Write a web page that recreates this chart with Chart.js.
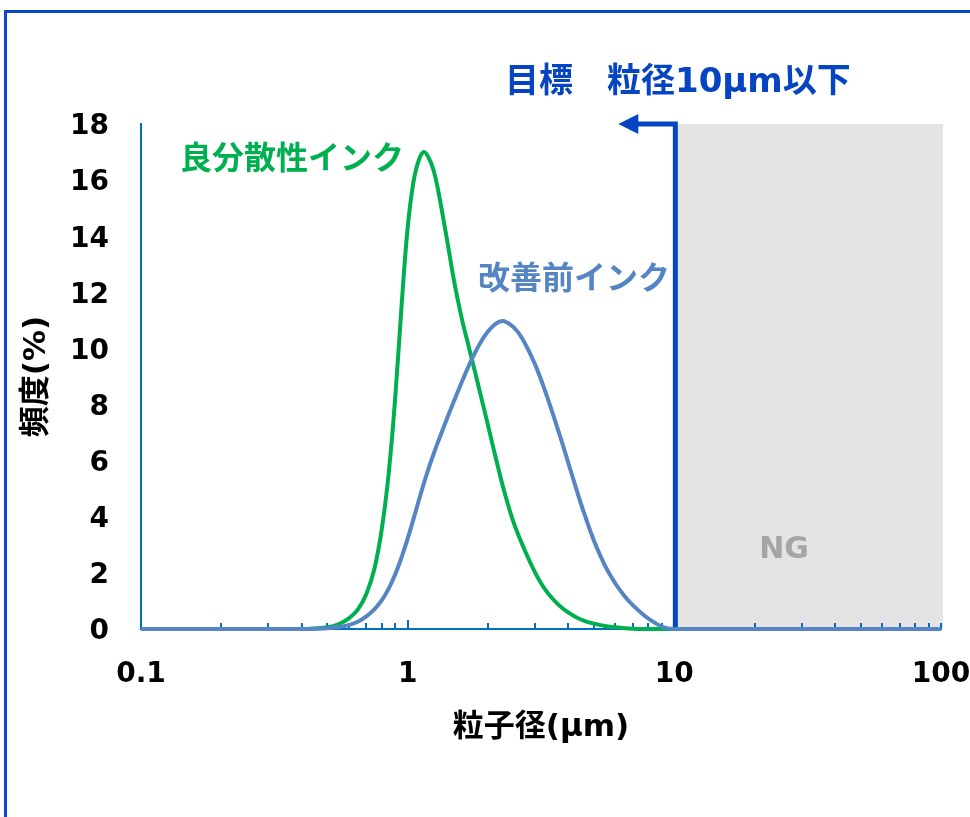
<!DOCTYPE html>
<html lang="ja">
<head>
<meta charset="utf-8">
<title>粒子径分布</title>
<script src="https://cdn.jsdelivr.net/npm/chart.js@4/dist/chart.umd.min.js"></script>
<style>
html, body { margin: 0; padding: 0; background: #fff; }
#wrap { position: relative; width: 970px; height: 817px; overflow: hidden; }
#frame { position: absolute; left: 4px; top: 10px; width: 1000px; height: 900px;
         border-top: 3px solid #0b47c6; border-left: 3px solid #0b47c6; pointer-events: none; }
canvas { position: absolute; left: 0; top: 0; }
</style>
</head>
<body>
<div id="wrap">
  <canvas id="c" width="970" height="817"></canvas>
  <div id="frame"></div>
</div>
<script>
// particle size (μm) sampled on the log axis
const particleSizes = [0.1, 0.4, 0.45, 0.5, 0.55, 0.6, 0.65, 0.7, 0.75, 0.8, 0.85, 0.9, 0.95,
  1.0, 1.05, 1.1, 1.15, 1.2, 1.25, 1.3, 1.4, 1.5, 1.6, 1.7, 1.8, 1.9, 2.0, 2.1, 2.2, 2.3,
  2.5, 2.7, 3.0, 3.3, 3.7, 4.0, 4.3, 4.6, 5.0, 5.5, 6.0, 6.5, 7.0, 7.5, 8.0, 9.0, 10, 100];

// frequency (%) – well-dispersed ink
const wellDispersedInk = [0, 0, 0.02, 0.06, 0.17, 0.37, 0.69, 1.25, 2.14, 3.57, 5.6, 8.36, 11.6,
  14.3, 15.9, 16.7, 17.0, 16.79, 16.36, 15.65, 13.95, 12.3, 11.02, 10.01, 9.06, 8.14, 7.27, 6.42, 5.63, 4.92,
  3.78, 2.98, 2.03, 1.37, 0.84, 0.59, 0.41, 0.29, 0.19, 0.11, 0.06, 0.03, 0.01, 0, 0, 0, 0, 0];

// frequency (%) – ink before improvement
const beforeImprovementInk = [0, 0, 0.01, 0.03, 0.07, 0.14, 0.26, 0.45, 0.7, 1.03, 1.45, 1.97, 2.57,
  3.22, 3.9, 4.57, 5.19, 5.74, 6.23, 6.67, 7.47, 8.18, 8.83, 9.41, 9.9, 10.3, 10.6, 10.82, 10.95, 10.97,
  10.75, 10.33, 9.44, 8.4, 6.97, 5.93, 4.96, 4.1, 3.14, 2.25, 1.63, 1.18, 0.84, 0.58, 0.37, 0.08, 0, 0];

const seriesNames = ['良分散性インク', '改善前インク'];
const xTickValues = [0.1, 1, 10, 100];
const xTickLabels = ['0.1', '1', '10', '100'];
const yMin = 0, yMax = 18, yStep = 2;
const targetSize = 10;          // upper limit of the target range (μm)
const targetText = '目標\u3000粒径10μm以下';
const ngText = 'NG';

const FONT = "'DejaVu Sans', 'Noto Sans CJK JP', sans-serif";
const C_GREEN = '#00b050';
const C_STEEL = '#5585c3';
const C_AXIS = '#0070c0';
const C_TARGET = '#0645c2';

// shaded NG band, minor ticks and the target marker behind the curves
const decorations = {
  id: 'decorations',
  beforeDatasetsDraw(chart) {
    const { ctx, chartArea } = chart;
    const xs = chart.scales.x, ys = chart.scales.y;
    const y0 = ys.getPixelForValue(yMin);
    const yTop = ys.getPixelForValue(yMax);
    const xT = xs.getPixelForValue(targetSize);
    ctx.save();

    // NG band
    ctx.fillStyle = '#e4e4e4';
    ctx.fillRect(xT, yTop, chartArea.right + 2 - xT, y0 - 1 - yTop);

    // inward ticks on the log axis
    ctx.strokeStyle = C_AXIS;
    ctx.lineWidth = 2;
    for (const d of [0.1, 1, 10]) {
      for (let k = 1; k <= 10; k++) {
        const v = d * k;
        if (v <= 0.1 + 1e-9) continue;
        if (k === 10 && d !== 10) continue;
        const px = Math.round(xs.getPixelForValue(v));
        const len = (k === 1) ? 9 : 6;
        ctx.beginPath();
        ctx.moveTo(px, y0);
        ctx.lineTo(px, y0 - len);
        ctx.stroke();
      }
    }

    // target line with arrow pointing to the smaller sizes
    ctx.strokeStyle = C_TARGET;
    ctx.fillStyle = C_TARGET;
    ctx.lineWidth = 5;
    ctx.lineJoin = 'miter';
    ctx.beginPath();
    ctx.moveTo(xT + 1, y0 - 2);
    ctx.lineTo(xT + 1, yTop);
    ctx.lineTo(xT - 38, yTop);
    ctx.stroke();
    ctx.beginPath();
    ctx.moveTo(xT - 56, yTop);
    ctx.lineTo(xT - 36, yTop - 10);
    ctx.lineTo(xT - 36, yTop + 10);
    ctx.closePath();
    ctx.fill();
    ctx.restore();
  },
  afterDraw(chart) {
    const { ctx } = chart;
    ctx.save();
    ctx.textBaseline = 'middle';
    ctx.textAlign = 'left';
    ctx.font = `bold 34px ${FONT}`;
    ctx.fillStyle = C_TARGET;
    ctx.fillText(targetText, 505, 83);
    ctx.font = `bold 32px ${FONT}`;
    ctx.fillStyle = C_GREEN;
    ctx.fillText(seriesNames[0], 180, 161);
    ctx.fillStyle = C_STEEL;
    ctx.fillText(seriesNames[1], 478, 281);
    ctx.textAlign = 'center';
    ctx.font = `bold 30px ${FONT}`;
    ctx.fillStyle = '#a5a5a5';
    ctx.fillText(ngText, 784, 550);
    ctx.restore();
  }
};

const toPoints = (vals) => particleSizes.map((s, i) => ({ x: s, y: vals[i] }));

new Chart(document.getElementById('c'), {
  type: 'line',
  data: {
    datasets: [
      {
        label: seriesNames[1],
        data: toPoints(beforeImprovementInk),
        borderColor: C_STEEL,
        borderWidth: 4,
        pointRadius: 0,
        tension: 0.4,
        fill: false,
        clip: 8
      },
      {
        label: seriesNames[0],
        data: toPoints(wellDispersedInk),
        borderColor: C_GREEN,
        borderWidth: 4,
        pointRadius: 0,
        tension: 0.4,
        fill: false,
        clip: 8
      }
    ]
  },
  options: {
    responsive: false,
    devicePixelRatio: 1,
    animation: false,
    layout: { padding: { top: 124, right: 29, bottom: 0, left: 0 } },
    plugins: { legend: { display: false }, tooltip: { enabled: false } },
    scales: {
      x: {
        type: 'logarithmic',
        min: 0.1,
        max: 100,
        afterBuildTicks(scale) {
          scale.ticks = xTickValues.map(v => ({ value: v }));
        },
        afterFit(scale) {
          scale.height = 188;
          scale.paddingLeft = 0;
          scale.paddingRight = 0;
        },
        ticks: {
          autoSkip: false,
          maxRotation: 0,
          color: '#000',
          padding: 29,
          font: { family: FONT, size: 28, weight: 'bold' },
          callback: (v) => {
            const i = xTickValues.findIndex(t => Math.abs(t - v) < 1e-9);
            return i >= 0 ? xTickLabels[i] : '';
          }
        },
        grid: { display: false, drawTicks: false },
        border: { display: true, color: C_AXIS, width: 2 },
        title: {
          display: true,
          text: '粒子径(μm)',
          color: '#000',
          font: { family: FONT, size: 31, weight: 'bold' },
          padding: { top: 0, bottom: 70 }
        }
      },
      y: {
        min: yMin,
        max: yMax,
        afterFit(scale) {
          scale.width = 141;
          scale.paddingTop = 0;
          scale.paddingBottom = 0;
        },
        ticks: {
          stepSize: yStep,
          color: '#000',
          padding: 32,
          labelOffset: 3,
          font: { family: FONT, size: 28, weight: 'bold' }
        },
        grid: { display: false, drawTicks: false },
        border: { display: true, color: C_AXIS, width: 2 },
        title: {
          display: true,
          text: '頻度(%)',
          color: '#000',
          font: { family: FONT, size: 31, weight: 'bold' },
          padding: { top: 18, bottom: 0 }
        }
      }
    }
  },
  plugins: [decorations]
});
</script>
</body>
</html>
